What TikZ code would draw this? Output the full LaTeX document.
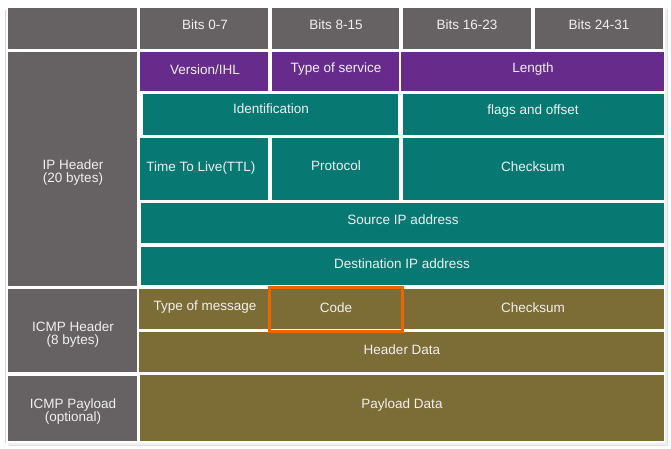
\documentclass[tikz,border=0pt]{standalone}
\usepackage{fontspec}
\setmainfont{Liberation Sans}
\definecolor{hgray}{RGB}{102,97,98}
\definecolor{ipurple}{RGB}{103,43,140}
\definecolor{iteal}{RGB}{8,120,115}
\definecolor{iolive}{RGB}{124,108,54}
\definecolor{iorange}{RGB}{240,100,0}
\definecolor{itext}{RGB}{240,240,240}
\definecolor{frameg}{RGB}{215,215,215}
\begin{document}
\begin{tikzpicture}[x=1pt,y=-1pt,
  lbl/.style={text=itext,font=\fontsize{13.5}{13}\selectfont,align=center,inner sep=0pt},
  cellgray/.style={fill=hgray},
  cellpurple/.style={fill=ipurple},
  cellteal/.style={fill=iteal},
  cellolive/.style={fill=iolive}]
\useasboundingbox (0,0) rectangle (671,449);
\fill[white] (0,0) rectangle (671,449);
% card frame and shadow
\fill[black!12] (9,9) rectangle (668,446);
\fill[black!6] (8,8) rectangle (667,445);
\fill[white] (6,6) rectangle (665,443);
\draw[frameg,line width=1pt] (5.5,10) -- (5.5,443);
% header row
\fill[cellgray] (8,8) rectangle (137,49);
\fill[cellgray] (140,8) rectangle (268,49);
\fill[cellgray] (272,8) rectangle (399,49);
\fill[cellgray] (403,8) rectangle (531,49);
\fill[cellgray] (535,8) rectangle (663,49);
\node[lbl] (b0) at (205,24.5) {Bits 0-7};
\node[lbl] (b1) at (336,24.5) {Bits 8-15};
\node[lbl] (b2) at (467,24.5) {Bits 16-23};
\node[lbl] (b3) at (599,24.5) {Bits 24-31};
% left column
\fill[cellgray] (8,52) rectangle (137,286);
\fill[cellgray] (8,289) rectangle (137,372);
\fill[cellgray] (8,376) rectangle (137,441);
\node[lbl] (iph) at (73,172.5) {IP Header\\(20 bytes)};
\node[lbl] (icmph) at (73,334.5) {ICMP Header\\(8 bytes)};
\node[lbl] (icmpp) at (73,411.5) {ICMP Payload\\(optional)};
% row 1
\fill[cellpurple] (140,52) rectangle (268,91);
\fill[cellpurple] (272,52) rectangle (399,91);
\fill[cellpurple] (401,52) rectangle (664,91);
\node[lbl] (ver) at (205,69.5) {Version/IHL};
\node[lbl] (tos) at (336,69.5) {Type of service};
\node[lbl] (len) at (533,69.5) {Length};
% row 2
\fill[cellteal] (143,94) rectangle (398,135);
\fill[cellteal] (403,94) rectangle (664,135);
\node[lbl] (ident) at (271,108.5) {Identification};
\node[lbl] (flags) at (533,111.5) {flags and offset};
% row 3
\fill[cellteal] (140,138) rectangle (268,200);
\fill[cellteal] (272,138) rectangle (399,200);
\fill[cellteal] (403,138) rectangle (664,200);
\node[lbl] (ttl) at (201,168.5) {Time To Live(TTL)};
\node[lbl] (proto) at (336,165.5) {Protocol};
\node[lbl] (ipcs) at (533,166.5) {Checksum};
% rows 4,5
\fill[cellteal] (141,203) rectangle (664,243);
\fill[cellteal] (141,247) rectangle (664,285);
\node[lbl] (src) at (403,219.5) {Source IP address};
\node[lbl] (dst) at (402,263.5) {Destination IP address};
% ICMP rows
\fill[cellolive] (139,289) rectangle (268,329);
\fill[cellolive] (271,289) rectangle (401,329);
\fill[cellolive] (403,289) rectangle (664,329);
\node[lbl] (tom) at (205,307.5) {Type of message};
\node[lbl] (code) at (336,307.5) {Code};
\node[lbl] (icmpcs) at (533,307.5) {Checksum};
\fill[cellolive] (139,332) rectangle (664,372);
\node[lbl] (hdata) at (402,349.5) {Header Data};
\fill[cellolive] (140,375) rectangle (664,441);
\node[lbl] (pdata) at (402,405.5) {Payload Data};
% highlight
\draw[iorange,line width=3pt] (269.8,287.5) rectangle (402.5,331.8);
\end{tikzpicture}
\end{document}
